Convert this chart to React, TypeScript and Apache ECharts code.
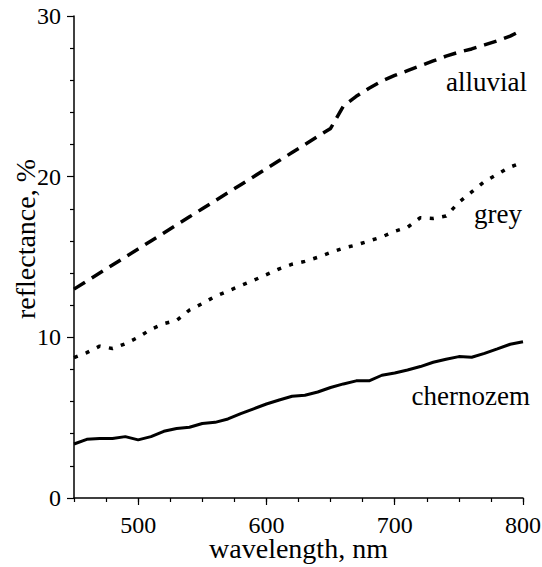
import { useEffect, useRef } from "react";
import * as echarts from "echarts";

// Spectral reflectance of three soil types, sampled every 10 nm
const wavelengths = [
  450, 460, 470, 480, 490, 500, 510, 520, 530, 540, 550, 560, 570, 580, 590, 600, 610, 620,
  630, 640, 650, 660, 670, 680, 690, 700, 710, 720, 730, 740, 750, 760, 770, 780, 790, 800,
];

const alluvial = [
  13.0, 13.5, 14.0, 14.5, 15.0, 15.5, 16.0, 16.5, 17.0, 17.5, 18.0, 18.5, 19.0, 19.5, 20.0, 20.5,
  21.0, 21.5, 22.0, 22.5, 23.0, 24.4, 25.0, 25.5, 25.95, 26.3, 26.6, 26.9, 27.2, 27.5, 27.75,
  27.95, 28.2, 28.45, 28.75, 29.15,
];

const grey = [
  8.74, 9.05, 9.45, 9.3, 9.6, 10.0, 10.5, 10.85, 11.05, 11.7, 12.1, 12.55, 12.88, 13.22, 13.55,
  13.9, 14.26, 14.55, 14.73, 14.98, 15.28, 15.55, 15.75, 16.0, 16.25, 16.6, 16.85, 17.45, 17.4,
  17.55, 18.4, 19.05, 19.7, 20.15, 20.6, 20.9,
];

const chernozem = [
  3.36, 3.65, 3.71, 3.7, 3.82, 3.62, 3.82, 4.15, 4.32, 4.4, 4.64, 4.71, 4.92, 5.25, 5.55, 5.85,
  6.1, 6.33, 6.4, 6.6, 6.88, 7.1, 7.29, 7.29, 7.64, 7.78, 7.97, 8.18, 8.45, 8.64, 8.8, 8.76, 9.0,
  9.28, 9.57, 9.73,
];

const xLabelValues = [500, 600, 700, 800];
const seriesNames = ["alluvial", "grey", "chernozem"];
const xTitle = "wavelength, nm";
const yTitle = "reflectance, %";

const FONT = "'Liberation Serif', 'Times New Roman', Times, serif";

const pairs = (ys: number[]) => wavelengths.map((w, i) => [w, ys[i]]);

export default function App() {
  const ref = useRef<HTMLDivElement>(null);

  useEffect(() => {
    if (!ref.current) return;
    const chart = echarts.init(ref.current, undefined, { renderer: "svg" });

    const axisText = { color: "#000", fontFamily: FONT, fontSize: 24, lineHeight: 20 };
    const labelText = (text: string, right: number, y: number) => ({
      type: "text",
      right,
      top: y - 14,
      style: { text, fill: "#000", fontFamily: FONT, fontSize: 27 },
    });

    chart.setOption({
      animation: false,
      backgroundColor: "#fff",
      textStyle: { fontFamily: FONT, color: "#000" },
      grid: {
        left: 74,
        right: 19,
        top: 16,
        bottom: 69,
        containLabel: false,
        outerBoundsMode: "none",
      },
      xAxis: [
        {
          type: "value",
          min: 450,
          max: 800,
          position: "bottom",
          name: xTitle,
          nameLocation: "middle",
          nameGap: 38,
          nameMoveOverlap: false,
          nameTextStyle: { color: "#000", fontFamily: FONT, fontSize: 28, lineHeight: 24 },
          axisLine: { show: true, lineStyle: { color: "#000", width: 1.5 } },
          axisTick: {
            show: true,
            inside: false,
            length: 7,
            customValues: xLabelValues,
            lineStyle: { color: "#000", width: 1.2 },
          },
          axisLabel: { ...axisText, margin: 17, customValues: xLabelValues },
          splitLine: { show: false },
        },
        {
          // minor ticks every 25 nm
          type: "value",
          min: 450,
          max: 800,
          interval: 25,
          position: "bottom",
          axisLine: { show: false },
          axisTick: { show: true, length: 4, lineStyle: { color: "#000", width: 1.2 } },
          axisLabel: { show: false },
          splitLine: { show: false },
        },
      ],
      yAxis: {
        type: "value",
        min: 0,
        max: 30,
        interval: 10,
        axisLine: { show: true, lineStyle: { color: "#000", width: 1.5 } },
        axisTick: { show: true, length: 7, lineStyle: { color: "#000", width: 1.2 } },
        minorTick: { show: true, splitNumber: 5, length: 4, lineStyle: { color: "#000", width: 1.2 } },
        axisLabel: { ...axisText, margin: 13 },
        splitLine: { show: false },
      },
      series: [
        {
          name: seriesNames[0],
          type: "line",
          data: pairs(alluvial),
          showSymbol: false,
          lineStyle: { color: "#000", width: 3.5, type: [13, 8] },
        },
        {
          name: seriesNames[1],
          type: "line",
          data: pairs(grey),
          showSymbol: false,
          lineStyle: { color: "#000", width: 3.5, type: [4, 8.5] },
        },
        {
          name: seriesNames[2],
          type: "line",
          data: pairs(chernozem),
          showSymbol: false,
          lineStyle: { color: "#000", width: 3, type: "solid" },
        },
      ],
      graphic: [
        {
          type: "text",
          x: 25,
          y: 239,
          rotation: Math.PI / 2,
          style: {
            text: yTitle,
            fill: "#000",
            fontFamily: FONT,
            fontSize: 28,
            align: "center",
            verticalAlign: "middle",
          },
        },
        labelText(seriesNames[0], 15, 82),
        labelText(seriesNames[1], 20, 214),
        labelText(seriesNames[2], 12, 396),
      ],
    });

    return () => chart.dispose();
  }, []);

  return (
    <div
      ref={ref}
      style={{ position: "fixed", left: 0, top: 0, width: 542, height: 567, background: "#fff" }}
    />
  );
}
